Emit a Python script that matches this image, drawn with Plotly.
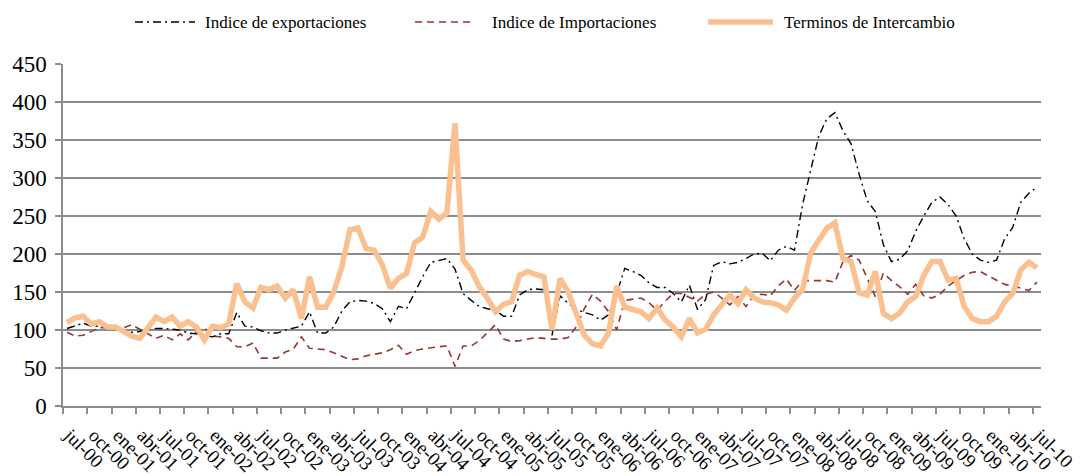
import plotly.graph_objects as go

# Monthly series, jul-00 .. jul-10 (121 months)
exportaciones = [
    102, 105, 109, 105, 105, 104, 102, 100, 97, 98, 101, 102, 102, 101, 100, 96,
    95, 93, 91, 95, 95, 123, 105, 104, 99, 96, 96, 100, 102, 105, 124, 96,
    96, 104, 125, 137, 139, 138, 135, 128, 111, 131, 128, 150, 170, 189, 192, 194,
    180, 148, 139, 131, 128, 126, 118, 118, 146, 153, 154, 153, 93, 145, 135, 127,
    123, 120, 113, 120, 148, 181, 177, 172, 162, 156, 156, 148, 137, 159, 127, 140,
    185, 190, 187, 189, 194, 200, 201, 191, 205, 210, 205, 265, 310, 355, 378, 386,
    362, 345, 305, 270, 256, 212, 190, 193, 204, 230, 250, 268, 275, 265, 250, 220,
    200, 192, 189, 192, 220, 235, 268, 280, 288,
]

importaciones = [
    97, 92, 93, 98, 103, 103, 102, 103, 107, 101, 95, 89, 93, 87, 95, 87,
    98, 103, 92, 91, 89, 78, 78, 83, 63, 63, 63, 71, 75, 91, 76, 75,
    74, 70, 65, 61, 62, 66, 68, 70, 74, 80, 68, 73, 75, 77, 78, 79,
    52, 79, 79, 86, 97, 107, 88, 85, 86, 88, 90, 89, 88, 88, 90, 104,
    128, 147, 138, 124, 100, 139, 141, 142, 136, 126, 138, 148, 148, 143, 138, 147,
    150, 142, 133, 144, 131, 146, 147, 145, 158, 167, 152, 165, 165, 165, 165, 163,
    190, 198, 192, 168, 144, 175, 165, 157, 147, 160, 145, 142, 147, 158, 165, 172,
    176, 177, 171, 165, 160, 158, 155, 152, 163,
]

terminos = [
    110, 116, 118, 108, 111, 104, 104, 98, 92, 89, 103, 117, 111, 117, 105, 111,
    104, 87, 105, 103, 108, 161, 137, 129, 156, 153, 158, 142, 153, 115, 170, 130,
    130, 150, 183, 232, 234, 207, 205, 186, 155, 168, 174, 215, 222, 256, 246, 254,
    372, 192, 179, 157, 142, 124, 134, 137, 172, 177, 173, 170, 100, 168, 150, 120,
    93, 82, 79, 96, 158, 130, 127, 124, 115, 129, 113, 104, 91, 115, 96, 101,
    120, 133, 146, 135, 153, 142, 137, 136, 133, 126, 142, 153, 201, 218, 234, 241,
    194, 190, 149, 146, 177, 122, 115, 122, 137, 144, 172, 190, 190, 166, 168, 131,
    115, 111, 111, 118, 137, 148, 179, 189, 182,
]

# Quarterly axis labels
etiquetas = [
    "jul-00", "oct-00", "ene-01", "abr-01", "jul-01", "oct-01", "ene-02", "abr-02",
    "jul-02", "oct-02", "ene-03", "abr-03", "jul-03", "oct-03", "ene-04", "abr-04",
    "jul-04", "oct-04", "ene-05", "abr-05", "jul-05", "oct-05", "ene-06", "abr-06",
    "jul-06", "oct-06", "ene-07", "abr-07", "jul-07", "oct-07", "ene-08", "abr-08",
    "jul-08", "oct-08", "ene-09", "abr-09", "jul-09", "oct-09", "ene-10", "abr-10",
    "jul-10",
]

nombres = ["Indice de exportaciones", "Indice de Importaciones", "Terminos de Intercambio"]

FONT = "Liberation Serif"
GRID = "#8c8c8c"
C_EXP = "#000000"
C_IMP = "#953735"
C_TER = "#FAC090"

n = len(terminos)
x = list(range(n))

fig = go.Figure()
fig.add_trace(go.Scatter(x=x, y=importaciones, mode="lines", name=nombres[1],
                         line=dict(color=C_IMP, width=1.6, dash="7px,5px")))
fig.add_trace(go.Scatter(x=x, y=exportaciones, mode="lines", name=nombres[0],
                         line=dict(color=C_EXP, width=1.4, dash="8px,4px,2px,4px")))
fig.add_trace(go.Scatter(x=x, y=terminos, mode="lines", name=nombres[2],
                         line=dict(color=C_TER, width=5.5)))

# Legend drawn along the top: sample line + label for each series
W, H = 1080, 476
L, R, T, B = 63, 39, 64, 70
pw = W - L - R
ph = H - T - B


def px_x(p):
    return (p - L) / pw


def px_y(p):
    return (H - B - p) / ph


leg = [
    (135, 195, 203, nombres[0], dict(color=C_EXP, width=1.4, dash="8px,4px,2px,4px")),
    (415, 475, 490, nombres[1], dict(color=C_IMP, width=1.6, dash="7px,5px")),
    (708, 773, 782, nombres[2], dict(color=C_TER, width=5.5)),
]
ly = 22
for x0, x1, xt, txt, ln in leg:
    fig.add_shape(type="line", xref="paper", yref="paper",
                  x0=px_x(x0), x1=px_x(x1), y0=px_y(ly), y1=px_y(ly), line=ln)
    fig.add_annotation(xref="paper", yref="paper", x=px_x(xt), y=px_y(ly),
                       text=txt, showarrow=False, xanchor="left", yanchor="middle",
                       font=dict(family=FONT, size=17, color="#000"))

fig.update_layout(
    width=W, height=H,
    margin=dict(l=L, r=R, t=T, b=B, pad=0),
    paper_bgcolor="white", plot_bgcolor="white",
    showlegend=False,
    font=dict(family=FONT, size=20, color="#000"),
    xaxis=dict(
        automargin=False,
        range=[-0.5, n - 0.5],
        tickmode="array", tickvals=x[::3], ticktext=etiquetas,
        ticks="", tickangle=45,
        tickfont=dict(family=FONT, size=19, color="#000"),
        ticklabelstandoff=9, ticklabelshift=3,
        ticklabeloverflow="allow",
        showgrid=False, zeroline=False,
        showline=True, linecolor=GRID, linewidth=1.5,
        minor=dict(tickmode="array", tickvals=[v - 0.5 for v in x[::3]],
                   ticks="outside", ticklen=6, tickcolor=GRID, tickwidth=1.5,
                   showgrid=False),
    ),
    yaxis=dict(
        automargin=False,
        range=[0, 450], dtick=50, tick0=0,
        ticks="outside", ticklen=6, tickcolor=GRID, tickwidth=1.5,
        tickfont=dict(family=FONT, size=23, color="#000"),
        ticklabelstandoff=4,
        showgrid=True, gridcolor=GRID, gridwidth=1.6,
        zeroline=False,
        showline=True, linecolor=GRID, linewidth=1.5,
    ),
)

fig.write_html("out.html")
